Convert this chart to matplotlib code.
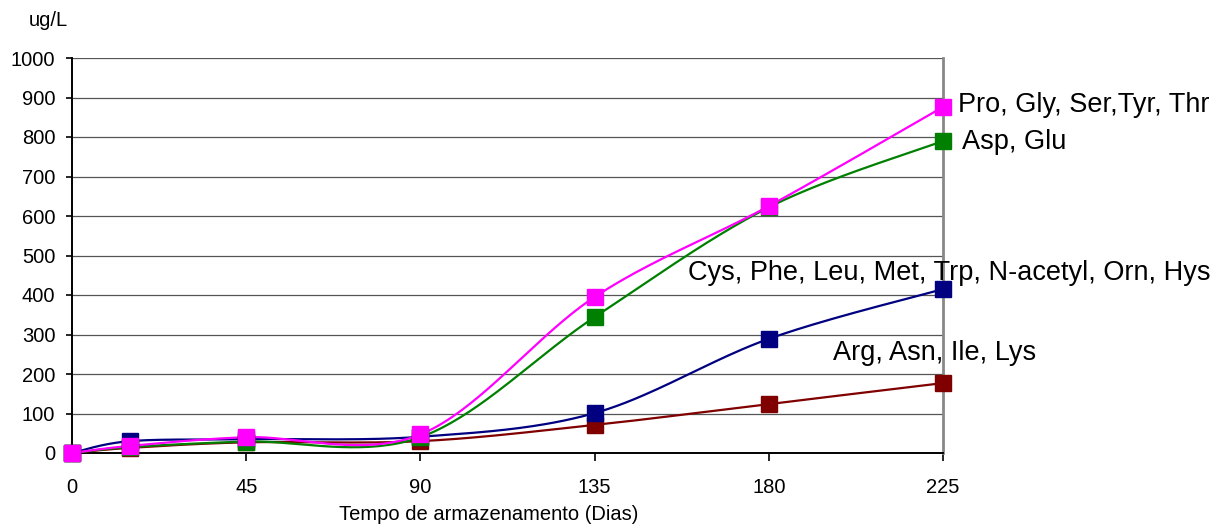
import numpy as np
import matplotlib.pyplot as plt

plt.rcParams['font.family'] = ['Liberation Sans', 'DejaVu Sans']

# storage time (days) and concentration (ug/L) per amino-acid group
dias = [0, 15, 45, 90, 135, 180, 225]
pro_gly = [0, 18, 40, 47, 395, 625, 876]
asp_glu = [0, 15, 29, 40, 344, 622, 790]
cys_phe = [0, 30, 35, 41, 101, 289, 415]
arg_asn = [0, 13, 27, 30, 71, 124, 177]

series = [
    (arg_asn, '#800000'),
    (cys_phe, '#000080'),
    (asp_glu, '#008000'),
    (pro_gly, '#FF00FF'),
]


def smooth(xs, ys, sx=871 / 225, sy=395 / 1000, n=40):
    # bezier smoothing like office charts, computed in screen-like units
    p = np.column_stack([np.asarray(xs, float) * sx, np.asarray(ys, float) * sy])
    pts = []
    t = np.linspace(0, 1, n)[:, None]
    for i in range(len(p) - 1):
        p0 = p[max(i - 1, 0)]
        p1, p2 = p[i], p[i + 1]
        p3 = p[min(i + 2, len(p) - 1)]
        c1 = p1 + (p2 - p0) / 6
        c2 = p2 - (p3 - p1) / 6
        seg = ((1 - t) ** 3) * p1 + 3 * ((1 - t) ** 2) * t * c1 + 3 * (1 - t) * t ** 2 * c2 + t ** 3 * p2
        pts.append(seg if i == 0 else seg[1:])
    pts = np.vstack(pts)
    return pts[:, 0] / sx, pts[:, 1] / sy


fig = plt.figure(figsize=(12.13, 5.25), dpi=100)
ax = fig.add_axes([72 / 1213, 1 - 453 / 525, 871 / 1213, 395 / 525])

for vals, cor in series:
    sxv, syv = smooth(dias, vals)
    ax.plot(sxv, syv, color=cor, lw=1.6, zorder=3, clip_on=False)
    ax.plot(dias, vals, ls='none', marker='s', ms=11, color=cor, mec=cor, zorder=4, clip_on=False)

# group labels next to the curves
ax.text(228.9, 881, 'Pro, Gly, Ser,Tyr, Thr', fontsize=19.5, va='center', ha='left')
ax.text(229.9, 787, 'Asp, Glu', fontsize=19.5, va='center', ha='left')
ax.text(294, 456, 'Cys, Phe, Leu, Met, Trp, N-acetyl, Orn, Hys', fontsize=19.5, va='center', ha='right')
ax.text(196.6, 253, 'Arg, Asn, Ile, Lys', fontsize=19.5, va='center', ha='left')

ax.set_xlim(0, 225)
ax.set_ylim(0, 1000)
ax.set_xticks(np.arange(0, 226, 45))
ax.set_yticks(np.arange(0, 1001, 100))
ax.yaxis.grid(True, color='#555555', lw=0.9)
ax.set_axisbelow(True)
ax.tick_params(labelsize=14.5, width=1.2, color='black')
ax.tick_params(axis='x', length=6, pad=12)
ax.tick_params(axis='y', length=4, pad=8)

ax.spines['left'].set_color('black')
ax.spines['left'].set_linewidth(1.4)
ax.spines['bottom'].set_color('black')
ax.spines['bottom'].set_linewidth(1.4)
ax.spines['top'].set_visible(False)
ax.spines['right'].set_color('#888888')
ax.spines['right'].set_linewidth(2)

fig.text(489 / 1213, 1 - 515 / 525, 'Tempo de armazenamento (Dias)', fontsize=14.5, ha='center', va='center')
fig.text(48 / 1213, 1 - 20 / 525, 'ug/L', fontsize=14.5, ha='center', va='center')

fig.savefig('out.png', dpi=100)
